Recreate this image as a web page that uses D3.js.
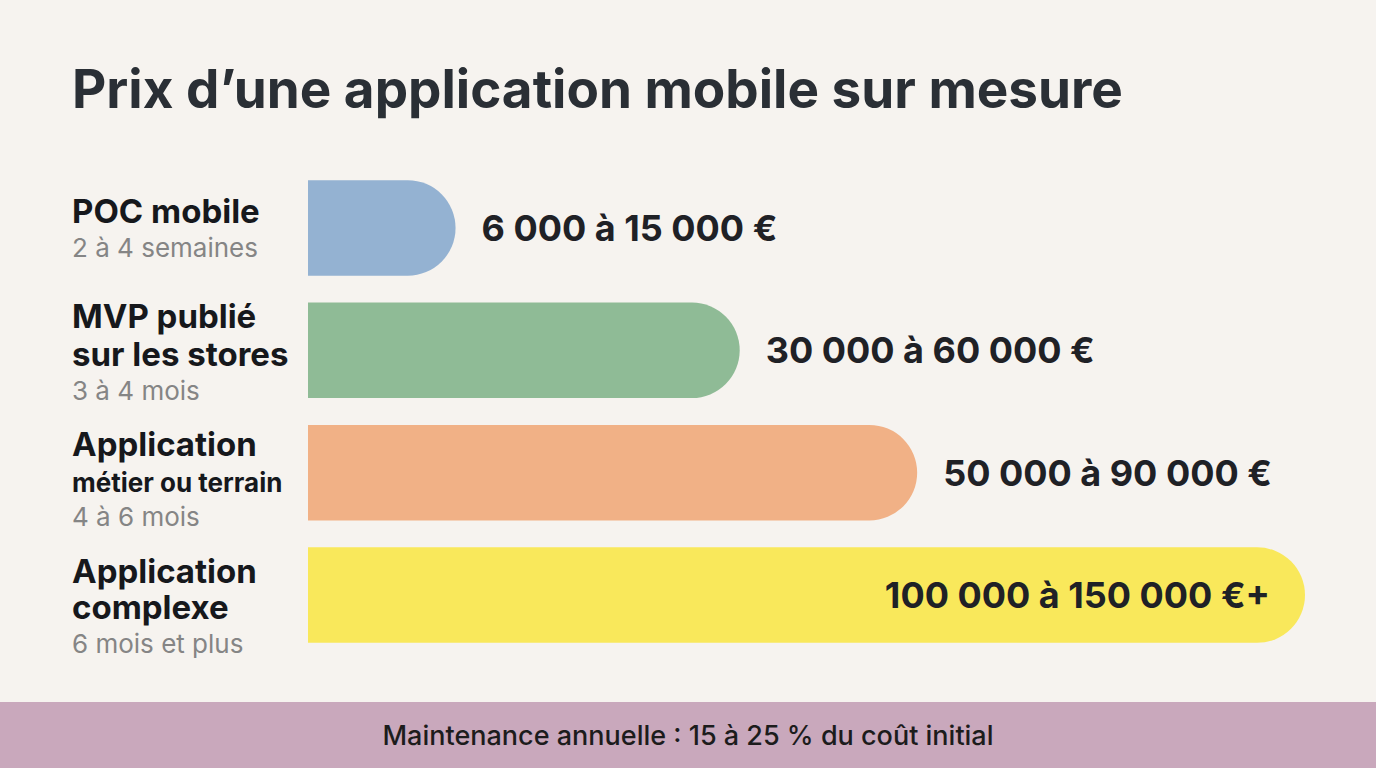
<!DOCTYPE html>
<html><head><meta charset="utf-8">
<script src="https://cdn.jsdelivr.net/npm/d3@7"></script>
<style>
body{margin:0;background:#f6f3ef;}
svg{display:block;font-family:Inter,"Noto Sans",sans-serif;}
</style></head><body>
<svg id="c" width="1376" height="768"></svg>
<script>
const categories = ["POC mobile", "MVP publié sur les stores", "Application métier ou terrain", "Application complexe"];
const titleLines = [["POC mobile"], ["MVP publié", "sur les stores"], ["Application", "métier ou terrain"], ["Application", "complexe"]];
const durations = ["2 à 4 semaines", "3 à 4 mois", "4 à 6 mois", "6 mois et plus"];
const priceLabels = ["6 000 à 15 000 €", "30 000 à 60 000 €", "50 000 à 90 000 €", "100 000 à 150 000 €+"];
// relative bar length as drawn in the picture (longest = 100)
const barLength = [14.8, 43.3, 61.1, 100];
const colors = ["#94b2d2", "#8fbb96", "#f1b186", "#f9e85b"];

const svg = d3.select("#c");
const x = d3.scaleLinear().domain([0, 100]).range([308, 1305]);
const y = d3.scaleBand().domain(categories).range([168, 655]).paddingInner(0.22).paddingOuter(0.1);

svg.append("text").attr("x", 72).attr("y", 108).attr("font-size", 53).attr("font-weight", 700)
  .attr("fill", "#2a2f35").text("Prix d’une application mobile sur mesure");

const bw = y.bandwidth(), r = bw / 2;
const labelShift = [-5, -22, -17, -12];
const g = svg.selectAll("g.row").data(categories).enter().append("g").attr("class", "row");

g.append("path").attr("fill", (d, i) => colors[i]).attr("d", (d, i) => {
  const x0 = x(0), x1 = x(barLength[i]), y0 = y(d);
  return `M${x0},${y0}H${x1 - r}A${r},${r} 0 0 1 ${x1},${y0 + r}A${r},${r} 0 0 1 ${x1 - r},${y0 + bw}H${x0}Z`;
});

g.append("text")
  .attr("x", (d, i) => i === 3 ? x(barLength[i]) - 35 : x(barLength[i]) + 26)
  .attr("y", d => y(d) + r + 13)
  .attr("text-anchor", (d, i) => i === 3 ? "end" : "start")
  .attr("font-size", 36).attr("font-weight", 700).attr("fill", "#1f2126")
  .text((d, i) => priceLabels[i]);

g.each(function (d, i) {
  const lines = titleLines[i];
  const el = d3.select(this);
  const top = y(d) + r + labelShift[i];
  const gap = i === 1 ? 38 : 36;
  lines.forEach((t, j) => {
    const small = i === 2 && j === 1;
    el.append("text").attr("x", 72).attr("y", top + j * gap)
      .attr("font-size", small ? 26 : 33).attr("font-weight", 700).attr("fill", "#16181c").text(t);
  });
  el.append("text").attr("x", 72).attr("y", top + (lines.length - 1) * gap + 34)
    .attr("font-size", 26).attr("fill", "#858585").text(durations[i]);
});

svg.append("rect").attr("x", 0).attr("y", 702).attr("width", 1376).attr("height", 66).attr("fill", "#c9a8bc");
svg.append("text").attr("x", 688).attr("y", 745).attr("text-anchor", "middle").attr("font-size", 27).attr("font-weight", 500)
  .attr("fill", "#1c1c1c").text("Maintenance annuelle : 15 à 25 % du coût initial");
</script></body></html>
